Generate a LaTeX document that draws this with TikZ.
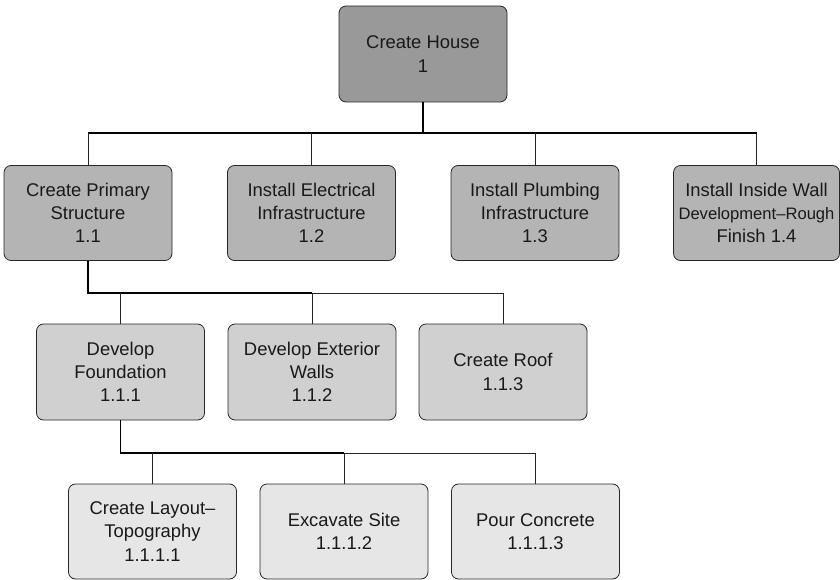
\documentclass[tikz,border=0pt]{standalone}
\usepackage{fontspec}
\setmainfont{Liberation Sans}
\begin{document}
\definecolor{lvlzero}{RGB}{153,153,153}
\definecolor{lvlone}{RGB}{180,180,180}
\definecolor{lvltwo}{RGB}{208,208,208}
\definecolor{lvlthree}{RGB}{230,230,230}
\begin{tikzpicture}[x=1pt,y=-1pt,
  wbs/.style={draw=black!85, line width=0.8pt, rounded corners=7pt,
    minimum width=168pt, minimum height=95pt, inner sep=0pt,
    align=center, text=black!90, font=\fontsize{18.4}{23.3}\selectfont},
  conn/.style={draw=black!85, line width=0.8pt},
  trunk/.style={draw=black, line width=1.6pt},
  bar/.style={draw=black, line width=1.2pt}]
\useasboundingbox (0,0) rectangle (840,580);

% level 0
\node[wbs, fill=lvlzero, minimum height=96pt] (h) at (423,54) {Create House\\1};

% level 1
\node[wbs, fill=lvlone] (p) at (88,213) {Create Primary\\Structure\\1.1};
\node[wbs, fill=lvlone] (e) at (311.5,213) {Install Electrical\\Infrastructure\\1.2};
\node[wbs, fill=lvlone] (pl) at (535,213) {Install Plumbing\\Infrastructure\\1.3};
\node[wbs, fill=lvlone, minimum width=166pt] (w) at (756.5,213)
  {Install Inside Wall\\{\fontsize{16.6}{20}\selectfont Development–Rough}\\Finish 1.4};

% level 2
\node[wbs, fill=lvltwo, minimum height=96pt] (f) at (120.5,372) {Develop\\Foundation\\1.1.1};
\node[wbs, fill=lvltwo, minimum height=96pt] (x) at (312,372) {Develop Exterior\\Walls\\1.1.2};
\node[wbs, fill=lvltwo, minimum height=96pt] (r) at (503,372) {Create Roof\\1.1.3};

% level 3
\node[wbs, fill=lvlthree] (t) at (152.5,531.5) {Create Layout–\\Topography\\1.1.1.1};
\node[wbs, fill=lvlthree] (s) at (344,531.5) {Excavate Site\\1.1.1.2};
\node[wbs, fill=lvlthree] (c) at (535.5,531.5) {Pour Concrete\\1.1.1.3};

% bar heights
\coordinate (b1) at (0,133);
\coordinate (b2) at (0,293);
\coordinate (b3) at (0,453);

% house -> level 1
\draw[trunk] (h.south) -- (h.south |- b1);
\draw[bar] (p.north |- b1) -- (w.north |- b1);
\foreach \n in {p,e,pl,w} \draw[conn] (\n.north) -- (\n.north |- b1);

% primary structure -> level 2
\draw[trunk] (p.south) |- (x.north |- b2);
\draw[conn] (x.north |- b2) -- (r.north |- b2);
\foreach \n in {f,x,r} \draw[conn] (\n.north) -- (\n.north |- b2);

% foundation -> level 3
\draw[trunk] (f.south) |- (s.north |- b3);
\draw[conn] (s.north |- b3) -- (c.north |- b3);
\foreach \n in {t,s,c} \draw[conn] (\n.north) -- (\n.north |- b3);
\end{tikzpicture}
\end{document}
